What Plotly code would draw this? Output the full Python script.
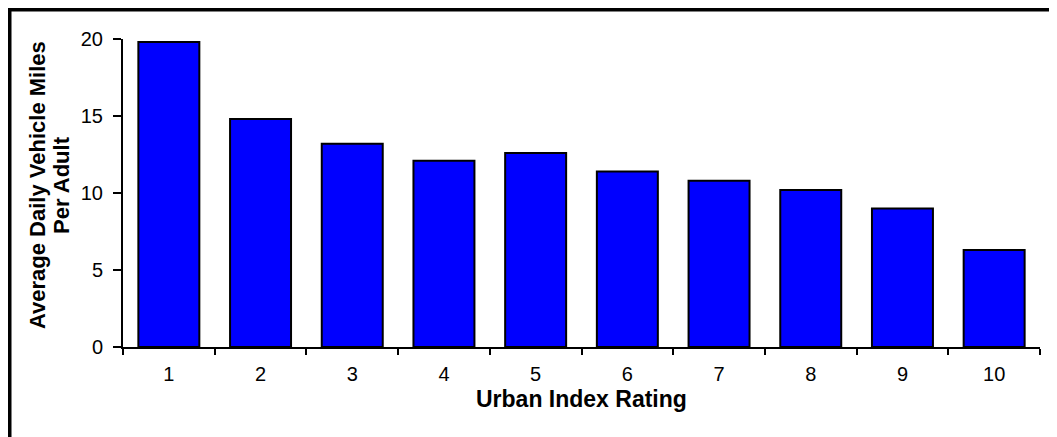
import plotly.graph_objects as go

# Urban index rating (1 = most rural ... 10 = most urban)
categories = ["1", "2", "3", "4", "5", "6", "7", "8", "9", "10"]
daily_miles = [19.8, 14.8, 13.2, 12.1, 12.6, 11.4, 10.8, 10.2, 9.0, 6.3]
y_ticks = [0, 5, 10, 15, 20]

X_TITLE = "Urban Index Rating"
Y_TITLE_LINES = ["Average Daily Vehicle Miles", "Per Adult"]

FONT = "Liberation Sans, Arial, sans-serif"

# page body has an 8px margin, so the figure is sized to fit the window
W, H = 1049, 429
M_L, M_R, M_T, M_B = 115, 17, 31, 90
PW, PH = W - M_L - M_R, H - M_T - M_B


def px_x(p):
    return (p - M_L) / PW


def px_y(p):
    return 1 - (p - M_T) / PH


bounds = [i - 0.5 for i in range(len(categories) + 1)]

fig = go.Figure(go.Bar(
    x=categories, y=daily_miles,
    marker=dict(color="#0000FF", line=dict(color="black", width=2)),
    width=0.665,
))

axis_common = dict(showgrid=False, zeroline=False, tickcolor="black",
                   tickwidth=2)

fig.update_layout(
    width=W, height=H,
    margin=dict(l=M_L, r=M_R, t=M_T, b=M_B),
    plot_bgcolor="white", paper_bgcolor="white",
    font=dict(family=FONT, size=20, color="black"),
    showlegend=False,
    xaxis=dict(
        type="category", range=[-0.5, len(categories) - 0.5],
        ticks="outside", ticklen=6, tickson="boundaries",
        ticklabelstandoff=8,
        showline=True, linecolor="black", linewidth=2,
        **axis_common,
    ),
    xaxis2=dict(
        overlaying="x", anchor="y", range=[-0.5, len(categories) - 0.5],
        tickmode="array", tickvals=bounds, ticks="inside", ticklen=9,
        showticklabels=False, showline=False, **axis_common,
    ),
    yaxis=dict(
        range=[0, 20], tickmode="array", tickvals=y_ticks,
        ticks="outside", ticklen=8, ticklabelstandoff=6,
        showline=True, linecolor="black", linewidth=2,
        **axis_common,
    ),
    yaxis2=dict(
        overlaying="y", anchor="x", range=[0, 20], tickmode="array",
        tickvals=y_ticks, ticks="inside", ticklen=5,
        showticklabels=False, showline=False, **axis_common,
    ),
)

# axis titles as annotations so they can sit as tight as in the original
fig.add_annotation(
    text="<b>" + X_TITLE + "</b>", xref="paper", yref="paper",
    x=0.5, y=px_y(391), xanchor="center", yanchor="middle",
    showarrow=False, font=dict(size=23),
)
for line, cx in zip(Y_TITLE_LINES, [29, 53]):
    fig.add_annotation(
        text="<b>" + line + "</b>", xref="paper", yref="paper",
        x=px_x(cx), y=px_y(177), xanchor="center", yanchor="middle",
        textangle=-90, showarrow=False, font=dict(size=22),
    )

# thick frame on the left and top edges (right/bottom run off the page)
fig.add_shape(
    type="rect", xref="paper", yref="paper",
    x0=px_x(1), x1=px_x(W + 20), y0=px_y(H + 20), y1=px_y(1),
    line=dict(color="black", width=5), fillcolor="rgba(0,0,0,0)",
    layer="above",
)

fig.write_html("out.html")
